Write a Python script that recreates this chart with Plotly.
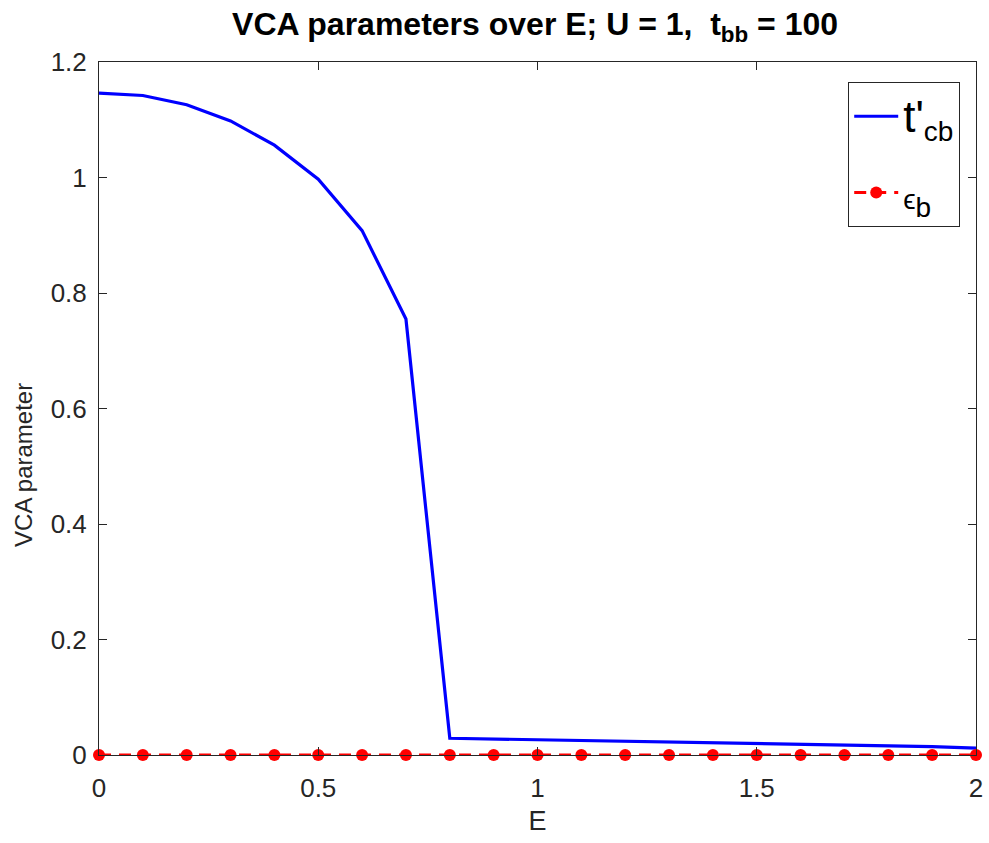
import plotly.graph_objects as go

E = [0.0, 0.1, 0.2, 0.3, 0.4, 0.5, 0.6, 0.7, 0.8, 0.9, 1.0, 1.1, 1.2, 1.3,
     1.4, 1.5, 1.6, 1.7, 1.8, 1.9, 2.0]
t_cb = [1.146, 1.142, 1.126, 1.098, 1.056, 0.997, 0.908, 0.755, 0.029, 0.0278,
        0.0265, 0.0252, 0.024, 0.0227, 0.0214, 0.0201, 0.0188, 0.0174, 0.016,
        0.0146, 0.0118]
eps_b = [0.0] * 21

x_ticks = [0, 0.5, 1, 1.5, 2]
y_ticks = [0, 0.2, 0.4, 0.6, 0.8, 1.0, 1.2]

axis_color = "#262626"
font_family = "Liberation Sans, Arial, sans-serif"

fig = go.Figure()
fig.add_trace(go.Scatter(
    x=E, y=t_cb, mode="lines",
    name="<span style='font-size:44px'>t'</span><sub><span style='font-size:28px'>cb</span></sub>",
    line=dict(color="#0000ff", width=3.2),
    legendgroup="a",
))
fig.add_trace(go.Scatter(
    x=E, y=eps_b, mode="lines+markers",
    name="<span style='font-size:28px'>\u03f5</span><sub><span style='font-size:28px'>b</span></sub>",
    line=dict(color="#ff0000", width=3, dash="12px,8px"),
    marker=dict(color="#ff0000", size=12, symbol="circle"),
    cliponaxis=False,
    legendgroup="b",
))

fig.update_layout(
    width=989, height=843,
    margin=dict(l=99, r=6, t=62, b=88),
    paper_bgcolor="white", plot_bgcolor="white",
    font=dict(family=font_family, color=axis_color),
    title=dict(
        text="<b>VCA parameters over E; U = 1,  t<sub>bb</sub> = 100</b>",
        x=0.541, xanchor="center", y=0.972, yanchor="middle",
        font=dict(size=32, color="black", family=font_family),
    ),
    showlegend=True,
    legend=dict(
        x=0.982, y=0.971, xanchor="right", yanchor="top",
        bgcolor="white", bordercolor=axis_color, borderwidth=1,
        font=dict(size=41, color="black", family=font_family),
        itemwidth=44, tracegroupgap=20, traceorder="grouped",
    ),
    xaxis=dict(
        range=[0, 2], tickvals=x_ticks, ticks="inside", ticklen=8,
        tickcolor=axis_color, showline=True, linecolor=axis_color, linewidth=1,
        mirror="ticks", showgrid=False, zeroline=False,
        tickfont=dict(size=26, color=axis_color),
        ticklabelstandoff=10, ticklabeloverflow="allow",
        title=dict(text="E", font=dict(size=27, color=axis_color), standoff=8),
    ),
    yaxis=dict(
        range=[0, 1.2], tickvals=y_ticks, ticks="inside", ticklen=8,
        tickcolor=axis_color, showline=True, linecolor=axis_color, linewidth=1,
        mirror="ticks", showgrid=False, zeroline=False,
        tickfont=dict(size=26, color=axis_color),
        ticklabelstandoff=6, ticklabeloverflow="allow",
    ),
    annotations=[dict(
        text="VCA parameter", textangle=-90, showarrow=False,
        xref="paper", yref="paper", x=-0.086, y=0.418,
        xanchor="center", yanchor="middle",
        font=dict(size=24, color=axis_color, family=font_family),
    )],
)

fig.write_html("out.html")
